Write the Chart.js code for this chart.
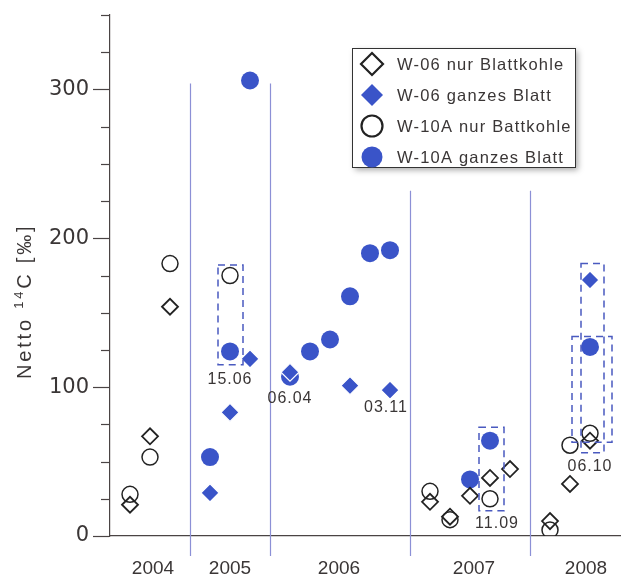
<!DOCTYPE html>
<html>
<head>
<meta charset="utf-8">
<script src="https://cdn.jsdelivr.net/npm/chart.js@4.4.1/dist/chart.umd.min.js"></script>
<style>
  html, body { margin: 0; padding: 0; background: #fff; }
</style>
</head>
<body>
<canvas id="chart" width="621" height="577"></canvas>
<script>
// x = sample slot along the time axis, y = Netto 14C [‰]
const years = ['2004', '2005', '2006', '2007', '2008']
const yearLabelSlots = [2.15, 6.0, 11.45, 18.2, 23.8]
const yearBreaks = [4, 8, 15, 21]
const yearBreakTops = [304, 304, 232, 232]

const w06Kohle = [[1, 21], [2, 67], [3, 154], [16, 23], [17, 13], [18, 27], [19, 39], [20, 45], [22, 10], [23, 35], [24, 64]]
const w06Blatt = [[5, 29], [6, 83], [7, 119], [9, 110], [12, 101], [14, 98], [24, 172]]
const w10Kohle = [[1, 28], [2, 53], [3, 183], [6, 175], [16, 30], [17, 11], [19, 25], [22, 4], [23, 61], [24, 69]]
const w10Blatt = [[5, 53], [6, 124], [7, 306], [9, 107], [10, 124], [11, 132], [12, 161], [13, 190], [14, 192], [18, 38], [19, 64], [24, 127]]

// dashed boxes: [slotFrom, slotTo, valueFrom, valueTo]
const sampleBoxes = [[5.4, 6.65, 115, 182], [18.45, 19.7, 17, 73], [23.55, 24.7, 56, 183], [23.1, 25.1, 63, 134]]
const dateLabels = ['15.06', '06.04', '03.11', '11.09', '06.10']
const dateLabelAt = [[6, 105], [9, 92.5], [13.8, 86.5], [19.35, 8], [24, 46.5]]

const fontFamily = '"Liberation Sans", Arial, sans-serif'
const textColor = '#3a3636'
const axisColor = '#4a4444'
const blue = '#3a54c8'

const toPoints = arr => arr.map(([x, y]) => ({ x, y }))

function drawMarker(ctx, style, filled, x, y, r, lw) {
  ctx.beginPath()
  if (style === 'circle') {
    ctx.arc(x, y, r, 0, Math.PI * 2)
  } else {
    ctx.moveTo(x, y - r)
    ctx.lineTo(x + r, y)
    ctx.lineTo(x, y + r)
    ctx.lineTo(x - r, y)
    ctx.closePath()
  }
  if (filled) {
    ctx.fillStyle = blue
    ctx.fill()
  } else {
    ctx.lineWidth = lw
    ctx.strokeStyle = '#222'
    ctx.stroke()
  }
}

const overlay = {
  id: 'overlay',
  beforeDatasetsDraw(chart) {
    const { ctx, scales: { x, y } } = chart
    ctx.save()
    ctx.strokeStyle = '#8c90d6'
    ctx.lineWidth = 1.2
    yearBreaks.forEach((b, i) => {
      const px = Math.round(x.getPixelForValue(b)) + 0.5
      ctx.beginPath()
      ctx.moveTo(px, y.getPixelForValue(yearBreakTops[i]))
      ctx.lineTo(px, y.bottom + 20)
      ctx.stroke()
    })
    ctx.restore()
  },
  afterDatasetsDraw(chart) {
    const { ctx, scales: { x, y } } = chart
    ctx.save()
    ctx.strokeStyle = '#4a5ac0'
    ctx.lineWidth = 1.5
    ctx.setLineDash([7, 5])
    sampleBoxes.forEach(([x0, x1, y0, y1]) => {
      const l = x.getPixelForValue(x0), r = x.getPixelForValue(x1)
      const t = y.getPixelForValue(y1), b = y.getPixelForValue(y0)
      ctx.strokeRect(l, t, r - l, b - t)
    })
    ctx.setLineDash([])
    ctx.fillStyle = textColor
    ctx.font = '16px ' + fontFamily
    ctx.letterSpacing = '1px'
    ctx.textAlign = 'center'
    ctx.textBaseline = 'middle'
    dateLabels.forEach((txt, i) => {
      ctx.fillText(txt, x.getPixelForValue(dateLabelAt[i][0]), y.getPixelForValue(dateLabelAt[i][1]))
    })
    ctx.restore()
  },
  afterDraw(chart) {
    const { ctx, scales: { y } } = chart
    ctx.save()
    // minor ticks
    ctx.strokeStyle = axisColor
    ctx.lineWidth = 1.2
    y.ticks.forEach(t => {
      if (t.value % 100 === 0) return
      const py = Math.round(y.getPixelForValue(t.value)) + 0.5
      ctx.beginPath()
      ctx.moveTo(y.right - 9, py)
      ctx.lineTo(y.right, py)
      ctx.stroke()
    })

    // y title with superscript
    ctx.fillStyle = textColor
    ctx.translate(31, 379)
    ctx.rotate(-Math.PI / 2)
    ctx.textBaseline = 'alphabetic'
    ctx.textAlign = 'left'
    ctx.letterSpacing = '2.8px'
    ctx.font = '20px ' + fontFamily
    let cx = 0
    ctx.fillText('Netto ', cx, 0)
    cx += ctx.measureText('Netto ').width
    ctx.font = '13px ' + fontFamily
    ctx.fillText('14', cx, -8)
    cx += ctx.measureText('14').width
    ctx.font = '20px ' + fontFamily
    ctx.fillText('C [‰]', cx, 0)
    ctx.restore()

    // legend
    ctx.save()
    const bx = 352, by = 48, bw = 223, bh = 119
    ctx.shadowColor = 'rgba(0,0,0,0.35)'
    ctx.shadowBlur = 6
    ctx.shadowOffsetX = 3
    ctx.shadowOffsetY = 3
    ctx.fillStyle = '#fff'
    ctx.fillRect(bx, by, bw, bh)
    ctx.shadowColor = 'transparent'
    ctx.strokeStyle = '#333'
    ctx.lineWidth = 1
    ctx.strokeRect(bx + 0.5, by + 0.5, bw, bh)
    chart.data.datasets.forEach((ds, i) => {
      const ly = by + 16 + i * 31
      drawMarker(ctx, ds.pointStyle === 'circle' ? 'circle' : 'diamond', ds.filled, bx + 20, ly,
        ds.pointStyle === 'circle' ? 10.5 : 11, 2.2)
      ctx.fillStyle = textColor
      ctx.font = '16.5px ' + fontFamily
      ctx.letterSpacing = '1.2px'
      ctx.textAlign = 'left'
      ctx.textBaseline = 'middle'
      ctx.fillText(ds.label, bx + 45, ly + 1)
    })
    ctx.restore()
  }
}

new Chart(document.getElementById('chart'), {
  type: 'scatter',
  data: {
    datasets: [
      {
        label: 'W-06 nur Blattkohle',
        data: toPoints(w06Kohle),
        pointStyle: 'rectRot',
        filled: false,
        pointRadius: 8,
        pointBorderWidth: 1.8,
        pointBackgroundColor: 'rgba(0,0,0,0)',
        pointBorderColor: '#222'
      },
      {
        label: 'W-06 ganzes Blatt',
        data: toPoints(w06Blatt),
        pointStyle: 'rectRot',
        filled: true,
        pointRadius: 9,
        pointBorderWidth: 1.2,
        pointBackgroundColor: blue,
        pointBorderColor: '#fff'
      },
      {
        label: 'W-10A nur Battkohle',
        data: toPoints(w10Kohle),
        pointStyle: 'circle',
        filled: false,
        pointRadius: 8,
        pointBorderWidth: 1.5,
        pointBackgroundColor: 'rgba(0,0,0,0)',
        pointBorderColor: '#222'
      },
      {
        label: 'W-10A ganzes Blatt',
        data: toPoints(w10Blatt),
        pointStyle: 'circle',
        filled: true,
        pointRadius: 9,
        pointBorderWidth: 0,
        pointBackgroundColor: blue,
        pointBorderColor: blue
      }
    ]
  },
  options: {
    responsive: false,
    animation: false,
    layout: { autoPadding: false, padding: { top: 15, right: 0, left: 0, bottom: 0 } },
    plugins: {
      legend: { display: false },
      tooltip: { enabled: false }
    },
    scales: {
      x: {
        type: 'linear',
        bounds: 'data',
        min: 0,
        max: 25.55,
        afterBuildTicks: s => { s.ticks = yearLabelSlots.map(v => ({ value: v })) },
        afterFit: s => {
          s.height = 41
          s.paddingLeft = 0
          s.paddingRight = 0
        },
        ticks: {
          autoSkip: false,
          maxRotation: 0,
          padding: 3,
          color: textColor,
          font: { family: fontFamily, size: 19 },
          callback: (v, i) => years[i]
        },
        grid: { display: false, drawTicks: true, tickLength: 18 },
        border: { color: axisColor, width: 1.2 }
      },
      y: {
        min: 0,
        max: 350,
        afterFit: s => {
          s.width = 110
          s.paddingTop = 0
          s.paddingBottom = 0
        },
        ticks: {
          stepSize: 25,
          autoSkip: false,
          padding: 4,
          color: textColor,
          font: { family: '"DejaVu Sans", sans-serif', size: 21 },
          callback: v => (v % 100 === 0 ? v : '')
        },
        grid: {
          drawOnChartArea: false,
          tickLength: 17,
          tickWidth: 1.2,
          tickColor: c => (c.tick && c.tick.value % 100 === 0 ? axisColor : 'rgba(0,0,0,0)')
        },
        border: { color: axisColor, width: 1.2 }
      }
    }
  },
  plugins: [overlay]
})
</script>
</body>
</html>
